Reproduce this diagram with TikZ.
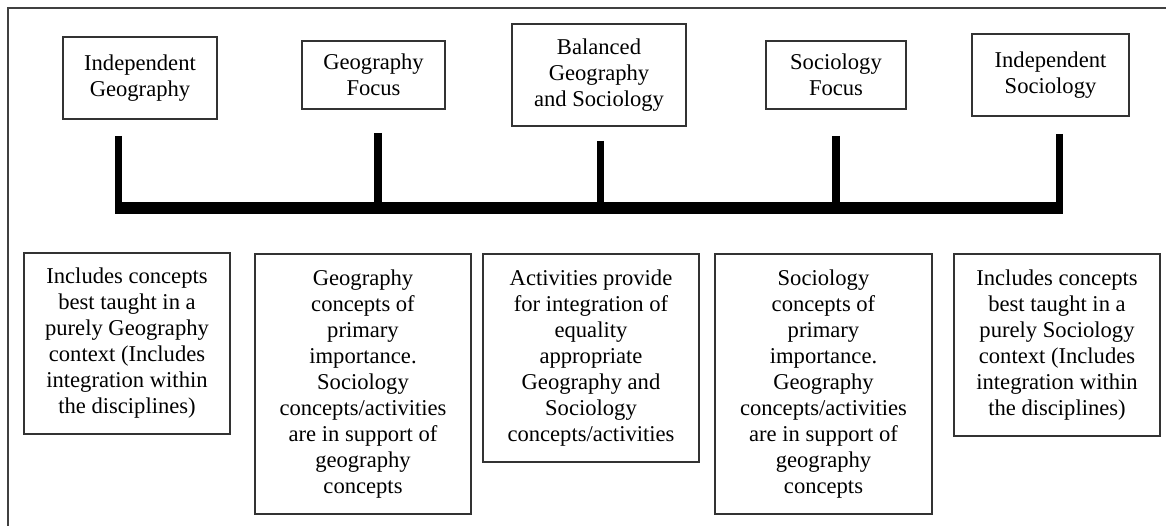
\documentclass[tikz,border=0pt]{standalone}
\usepackage{fontspec}
\setmainfont{Liberation Serif}

\begin{document}
\begin{tikzpicture}[x=1pt, y=-1pt,
    box/.style={draw=black!80, line width=1.2pt, align=center, inner sep=0pt,
      font=\fontsize{22.6}{26}\selectfont},
    tick/.style={line width=7.5pt},
    bar/.style={line width=12pt}]

  \useasboundingbox (0,0) rectangle (1166,526);

  % Frame
  \draw[line width=1.3pt, black!75] (8,526) -- (8,8) -- (1166,8);

  % Top labels
  \node[box, minimum width=154, minimum height=82] (igeo) at (140,78)
    {Independent\\Geography};
  \node[box, minimum width=143, minimum height=68] (geof) at (373.5,75)
    {Geography\\Focus};
  \node[box, minimum width=174, minimum height=102] (bal) at (599,75)
    {Balanced\\Geography\\and Sociology};
  \node[box, minimum width=140, minimum height=68] (socf) at (836,75)
    {Sociology\\Focus};
  \node[box, minimum width=157, minimum height=82] (isoc) at (1050.5,75)
    {Independent\\Sociology};

  % Comb
  \coordinate (t1) at (118.5,136);
  \coordinate (t2) at (378,133);
  \coordinate (t3) at (600.5,141);
  \coordinate (t4) at (836,136);
  \coordinate (t5) at (1059.5,134);
  \coordinate (barL) at (115,208);
  \coordinate (barR) at (1063,208);
  \foreach \t in {t1,t2,t3,t4,t5}
    \draw[tick] (\t) -- (\t |- barL);
  \draw[bar] (barL) -- (barR);

  % Descriptions
  \node[box, minimum width=206, minimum height=181] (igeod) at (127,343.5)
    {Includes concepts\\best taught in a\\purely Geography\\context (Includes\\integration within\\the disciplines)};
  \node[box, minimum width=216, minimum height=260] (geofd) at (363,384)
    {Geography\\concepts of\\primary\\importance.\\Sociology\\concepts/activities\\are in support of\\geography\\concepts};
  \node[box, minimum width=216, minimum height=208] (bald) at (591,358)
    {Activities provide\\for integration of\\equality\\appropriate\\Geography and\\Sociology\\concepts/activities};
  \node[box, minimum width=217, minimum height=260] (socfd) at (823.5,384)
    {Sociology\\concepts of\\primary\\importance.\\Geography\\concepts/activities\\are in support of\\geography\\concepts};
  \node[box, minimum width=206, minimum height=182] (isocd) at (1057,345)
    {Includes concepts\\best taught in a\\purely Sociology\\context (Includes\\integration within\\the disciplines)};
\end{tikzpicture}
\end{document}
